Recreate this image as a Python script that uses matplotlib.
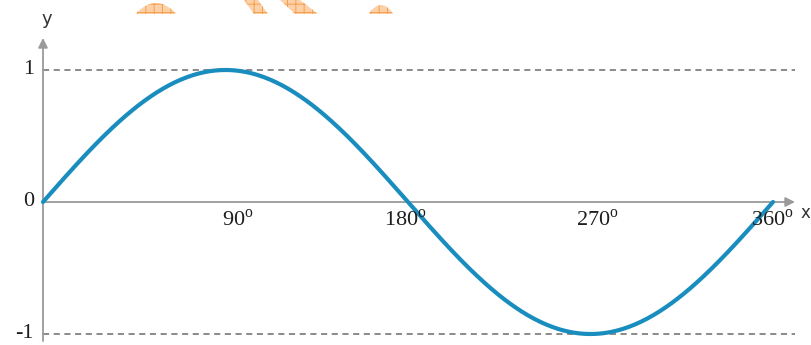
import numpy as np
import matplotlib
matplotlib.use("Agg")
import matplotlib.pyplot as plt
from matplotlib.patches import Polygon

plt.rcParams['mathtext.fontset'] = 'custom'
plt.rcParams['mathtext.rm'] = 'Liberation Serif'
plt.rcParams['hatch.linewidth'] = 0.7

# data
x_deg = np.arange(0, 361, 1)
y_vals = np.sin(np.radians(x_deg))
x_ticks = [90, 180, 270, 360]
x_tick_labels = ["90", "180", "270", "360"]
y_ticks = [1, 0, -1]
y_tick_labels = ["1", "0", "-1"]

W, H = 811, 345
fig = plt.figure(figsize=(W / 100, H / 100), dpi=100)
ax = fig.add_axes([0, 0, 1, 1])
ax.set_axis_off()

# pixel mapping: x=0 -> 43px, x=360 -> 773px ; y=0 -> 202px, 132px per unit
sx = 730 / 360
x0 = 43
sy = 132
y0 = 202
ax.set_xlim(-x0 / sx, (W - x0) / sx)
ax.set_ylim(-(H - y0) / sy, y0 / sy)

xmax_axis = (795 - x0) / sx
ytop_axis = (y0 - 38) / sy
ybot_axis = -(341 - y0) / sy

# dashed reference lines
for yv in [1, -1]:
    ax.plot([0, xmax_axis], [yv, yv], color='#6b6b6b', lw=1.1,
            linestyle=(0, (4, 3)), zorder=1)

# axes with arrows
ax.annotate("", xy=(xmax_axis, 0), xytext=(0, 0),
            arrowprops=dict(arrowstyle='-|>', color='#9a9a9a', lw=1.3,
                            mutation_scale=14, shrinkA=0, shrinkB=0), zorder=2)
ax.annotate("", xy=(0, ytop_axis), xytext=(0, ybot_axis),
            arrowprops=dict(arrowstyle='-|>', color='#9a9a9a', lw=1.3,
                            mutation_scale=14, shrinkA=0, shrinkB=0), zorder=2)

# sine curve
ax.plot(x_deg, y_vals, color='#1a8dbf', lw=3.0, solid_capstyle='round', zorder=3)

# axis letters
ax.text((801 - x0) / sx, (y0 - 213) / sy, "x", fontsize=12, color='#333333',
        family='DejaVu Sans', ha='left', va='center')
ax.text((47 - x0) / sx, (y0 - 19) / sy, "y", fontsize=13, color='#333333',
        family='DejaVu Sans', ha='center', va='center')

# x tick labels
offsets = [12, -3, 7, -1]
for xv, lab, off in zip(x_ticks, x_tick_labels, offsets):
    ax.text(xv + off / sx, (y0 - 219) / sy, r"$\mathrm{%s}^{\mathrm{o}}$" % lab,
            fontsize=16, color='#1e1e1e', ha='center', va='center')

# y tick labels
for yv, lab in zip(y_ticks, y_tick_labels):
    ax.text((34 - x0) / sx, yv, lab, fontsize=16, color='#1e1e1e',
            family='Liberation Serif', ha='right', va='center')

# watermark shapes (decorative)
def px(xp, yp):
    return ((xp - x0) / sx, (y0 - yp) / sy)

wm_kw = dict(facecolor='#fdd0a8', edgecolor='#f5a050', linewidth=0,
             hatch='++', zorder=0)
hump1 = [px(136 + t * 40, 14 - 11 * np.sin(np.pi * t) ** 0.8) for t in np.linspace(0, 1, 30)]
ax.add_patch(Polygon(hump1, closed=True, **wm_kw))
hump2 = [px(369 + t * 24, 14 - 9 * np.sin(np.pi * t) ** 0.8) for t in np.linspace(0, 1, 30)]
ax.add_patch(Polygon(hump2, closed=True, **wm_kw))
bar1 = [px(244, 0), px(258, 0), px(268, 14), px(254, 14)]
ax.add_patch(Polygon(bar1, closed=True, **wm_kw))
bar2 = [px(280, 0), px(300, 0), px(318, 14), px(295, 14)]
ax.add_patch(Polygon(bar2, closed=True, **wm_kw))

fig.savefig("out.png", dpi=100)
